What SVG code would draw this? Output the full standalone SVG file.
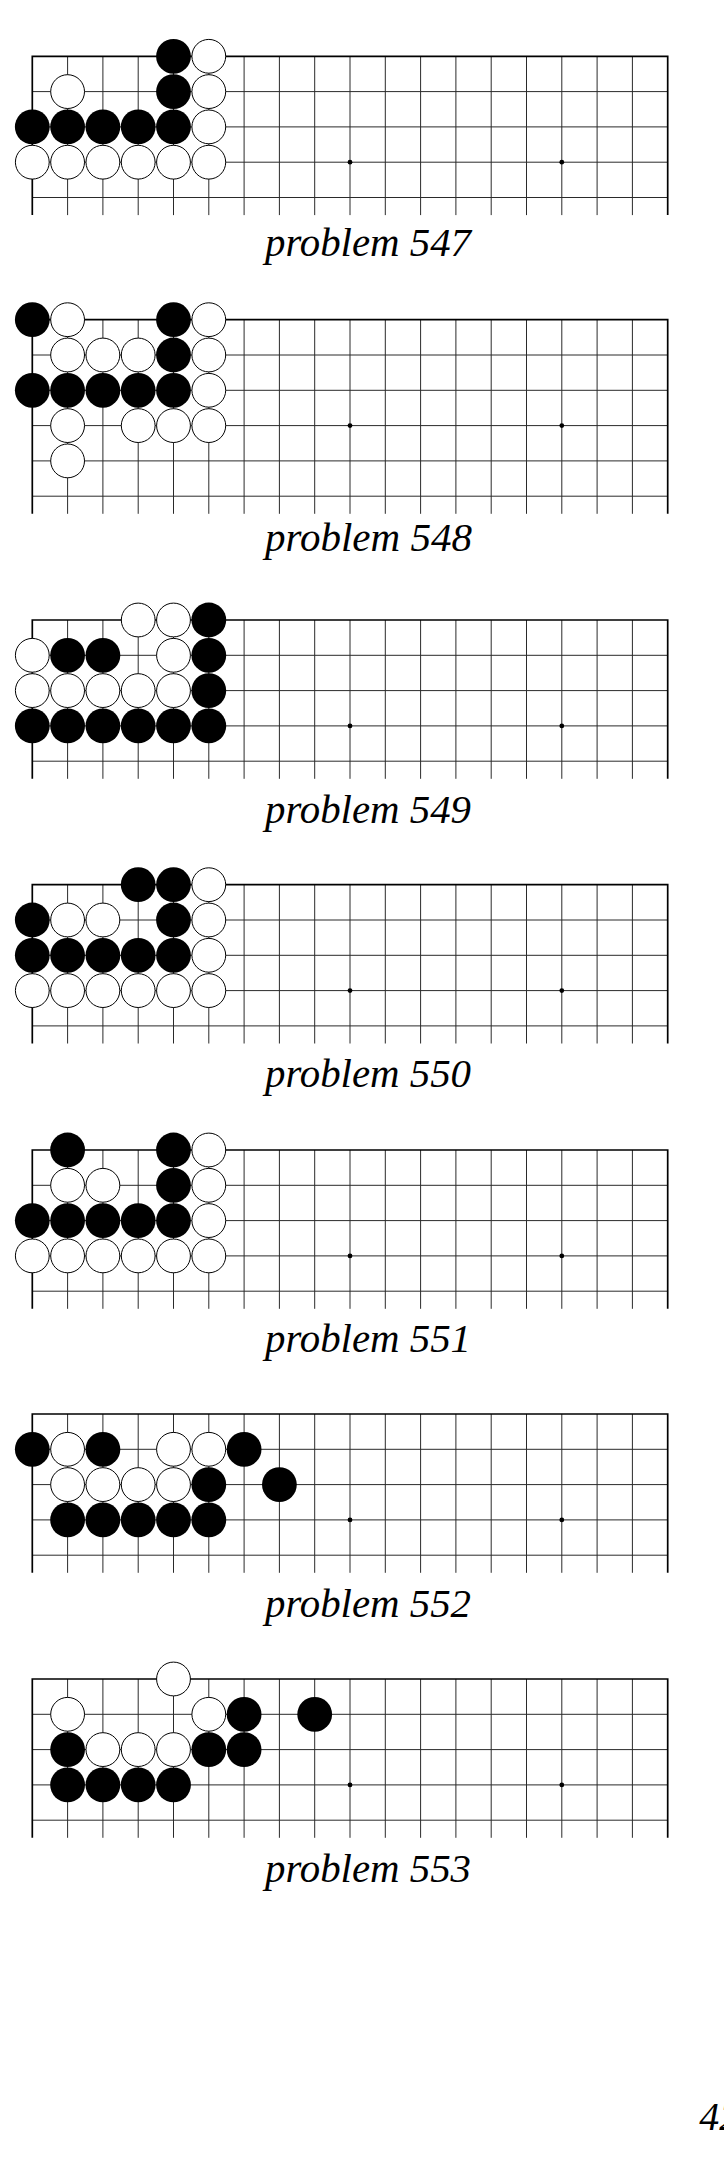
<svg xmlns="http://www.w3.org/2000/svg" xmlns:xlink="http://www.w3.org/1999/xlink" width="724" height="2181" viewBox="0 0 724 2181">
<style>
.bg{fill:#fff}
.in{stroke:#2a2a2a;stroke-width:1;fill:none}
.ed{stroke:#000;stroke-width:1.7;fill:none}
.star{fill:#000}
.b{fill:#000}
.w{fill:#fff;stroke:#000;stroke-width:1}
.cap{font-family:"Liberation Serif","Times New Roman",serif;font-style:italic;font-size:40px;fill:#000}
</style>
<defs>
<g id="grid5">
<path class="in" d="M0 35.3H635.4M0 70.6H635.4M0 105.9H635.4M0 141.2H635.4M35.3 0V158.8M70.6 0V158.8M105.9 0V158.8M141.2 0V158.8M176.5 0V158.8M211.8 0V158.8M247.1 0V158.8M282.4 0V158.8M317.7 0V158.8M353 0V158.8M388.3 0V158.8M423.6 0V158.8M458.9 0V158.8M494.2 0V158.8M529.5 0V158.8M564.8 0V158.8M600.1 0V158.8"/>
<path class="ed" d="M0 158.8V0H635.4V158.8"/>
<circle class="star" cx="317.7" cy="105.9" r="2.4"/>
<circle class="star" cx="529.5" cy="105.9" r="2.4"/>
</g>
<g id="grid6">
<path class="in" d="M0 35.3H635.4M0 70.6H635.4M0 105.9H635.4M0 141.2H635.4M0 176.5H635.4M35.3 0V194.1M70.6 0V194.1M105.9 0V194.1M141.2 0V194.1M176.5 0V194.1M211.8 0V194.1M247.1 0V194.1M282.4 0V194.1M317.7 0V194.1M353 0V194.1M388.3 0V194.1M423.6 0V194.1M458.9 0V194.1M494.2 0V194.1M529.5 0V194.1M564.8 0V194.1M600.1 0V194.1"/>
<path class="ed" d="M0 194.1V0H635.4V194.1"/>
<circle class="star" cx="317.7" cy="105.9" r="2.4"/>
<circle class="star" cx="529.5" cy="105.9" r="2.4"/>
</g>
<circle id="B" class="b" r="17.4"/>
<circle id="W" class="w" r="16.9"/>
</defs>
<rect class="bg" x="0" y="0" width="724" height="2181"/>

<g id="problem547">
<g transform="translate(32.3,56.3)">
<use xlink:href="#grid5"/>
<use xlink:href="#B" x="141.2" y="0"/><use xlink:href="#B" x="141.2" y="35.3"/>
<use xlink:href="#B" x="0" y="70.6"/><use xlink:href="#B" x="35.3" y="70.6"/><use xlink:href="#B" x="70.6" y="70.6"/><use xlink:href="#B" x="105.9" y="70.6"/><use xlink:href="#B" x="141.2" y="70.6"/>
<use xlink:href="#W" x="176.5" y="0"/><use xlink:href="#W" x="35.3" y="35.3"/><use xlink:href="#W" x="176.5" y="35.3"/><use xlink:href="#W" x="176.5" y="70.6"/>
<use xlink:href="#W" x="0" y="105.9"/><use xlink:href="#W" x="35.3" y="105.9"/><use xlink:href="#W" x="70.6" y="105.9"/><use xlink:href="#W" x="105.9" y="105.9"/><use xlink:href="#W" x="141.2" y="105.9"/><use xlink:href="#W" x="176.5" y="105.9"/>
</g>
<text class="cap" x="265" y="255.7" textLength="206" lengthAdjust="spacingAndGlyphs">problem 547</text>
</g>

<g id="problem548">
<g transform="translate(32.3,319.7)">
<use xlink:href="#grid6"/>
<use xlink:href="#B" x="0" y="0"/><use xlink:href="#B" x="141.2" y="0"/><use xlink:href="#B" x="141.2" y="35.3"/>
<use xlink:href="#B" x="0" y="70.6"/><use xlink:href="#B" x="35.3" y="70.6"/><use xlink:href="#B" x="70.6" y="70.6"/><use xlink:href="#B" x="105.9" y="70.6"/><use xlink:href="#B" x="141.2" y="70.6"/>
<use xlink:href="#W" x="35.3" y="0"/><use xlink:href="#W" x="176.5" y="0"/>
<use xlink:href="#W" x="35.3" y="35.3"/><use xlink:href="#W" x="70.6" y="35.3"/><use xlink:href="#W" x="105.9" y="35.3"/><use xlink:href="#W" x="176.5" y="35.3"/>
<use xlink:href="#W" x="176.5" y="70.6"/>
<use xlink:href="#W" x="35.3" y="105.9"/><use xlink:href="#W" x="105.9" y="105.9"/><use xlink:href="#W" x="141.2" y="105.9"/><use xlink:href="#W" x="176.5" y="105.9"/>
<use xlink:href="#W" x="35.3" y="141.2"/>
</g>
<text class="cap" x="265" y="550.7" textLength="207" lengthAdjust="spacingAndGlyphs">problem 548</text>
</g>

<g id="problem549">
<g transform="translate(32.3,620)">
<use xlink:href="#grid5"/>
<use xlink:href="#B" x="176.5" y="0"/><use xlink:href="#B" x="35.3" y="35.3"/><use xlink:href="#B" x="70.6" y="35.3"/><use xlink:href="#B" x="176.5" y="35.3"/><use xlink:href="#B" x="176.5" y="70.6"/>
<use xlink:href="#B" x="0" y="105.9"/><use xlink:href="#B" x="35.3" y="105.9"/><use xlink:href="#B" x="70.6" y="105.9"/><use xlink:href="#B" x="105.9" y="105.9"/><use xlink:href="#B" x="141.2" y="105.9"/><use xlink:href="#B" x="176.5" y="105.9"/>
<use xlink:href="#W" x="105.9" y="0"/><use xlink:href="#W" x="141.2" y="0"/><use xlink:href="#W" x="0" y="35.3"/><use xlink:href="#W" x="141.2" y="35.3"/>
<use xlink:href="#W" x="0" y="70.6"/><use xlink:href="#W" x="35.3" y="70.6"/><use xlink:href="#W" x="70.6" y="70.6"/><use xlink:href="#W" x="105.9" y="70.6"/><use xlink:href="#W" x="141.2" y="70.6"/>
</g>
<text class="cap" x="265" y="823.3" textLength="206" lengthAdjust="spacingAndGlyphs">problem 549</text>
</g>

<g id="problem550">
<g transform="translate(32.3,884.7)">
<use xlink:href="#grid5"/>
<use xlink:href="#B" x="105.9" y="0"/><use xlink:href="#B" x="141.2" y="0"/><use xlink:href="#B" x="0" y="35.3"/><use xlink:href="#B" x="141.2" y="35.3"/>
<use xlink:href="#B" x="0" y="70.6"/><use xlink:href="#B" x="35.3" y="70.6"/><use xlink:href="#B" x="70.6" y="70.6"/><use xlink:href="#B" x="105.9" y="70.6"/><use xlink:href="#B" x="141.2" y="70.6"/>
<use xlink:href="#W" x="176.5" y="0"/><use xlink:href="#W" x="35.3" y="35.3"/><use xlink:href="#W" x="70.6" y="35.3"/><use xlink:href="#W" x="176.5" y="35.3"/><use xlink:href="#W" x="176.5" y="70.6"/>
<use xlink:href="#W" x="0" y="105.9"/><use xlink:href="#W" x="35.3" y="105.9"/><use xlink:href="#W" x="70.6" y="105.9"/><use xlink:href="#W" x="105.9" y="105.9"/><use xlink:href="#W" x="141.2" y="105.9"/><use xlink:href="#W" x="176.5" y="105.9"/>
</g>
<text class="cap" x="265" y="1087.3" textLength="206" lengthAdjust="spacingAndGlyphs">problem 550</text>
</g>

<g id="problem551">
<g transform="translate(32.3,1150)">
<use xlink:href="#grid5"/>
<use xlink:href="#B" x="35.3" y="0"/><use xlink:href="#B" x="141.2" y="0"/><use xlink:href="#B" x="141.2" y="35.3"/>
<use xlink:href="#B" x="0" y="70.6"/><use xlink:href="#B" x="35.3" y="70.6"/><use xlink:href="#B" x="70.6" y="70.6"/><use xlink:href="#B" x="105.9" y="70.6"/><use xlink:href="#B" x="141.2" y="70.6"/>
<use xlink:href="#W" x="176.5" y="0"/><use xlink:href="#W" x="35.3" y="35.3"/><use xlink:href="#W" x="70.6" y="35.3"/><use xlink:href="#W" x="176.5" y="35.3"/><use xlink:href="#W" x="176.5" y="70.6"/>
<use xlink:href="#W" x="0" y="105.9"/><use xlink:href="#W" x="35.3" y="105.9"/><use xlink:href="#W" x="70.6" y="105.9"/><use xlink:href="#W" x="105.9" y="105.9"/><use xlink:href="#W" x="141.2" y="105.9"/><use xlink:href="#W" x="176.5" y="105.9"/>
</g>
<text class="cap" x="265" y="1352.3" textLength="206" lengthAdjust="spacingAndGlyphs">problem 551</text>
</g>

<g id="problem552">
<g transform="translate(32.3,1414)">
<use xlink:href="#grid5"/>
<use xlink:href="#B" x="0" y="35.3"/><use xlink:href="#B" x="70.6" y="35.3"/><use xlink:href="#B" x="211.8" y="35.3"/>
<use xlink:href="#B" x="176.5" y="70.6"/><use xlink:href="#B" x="247.1" y="70.6"/>
<use xlink:href="#B" x="35.3" y="105.9"/><use xlink:href="#B" x="70.6" y="105.9"/><use xlink:href="#B" x="105.9" y="105.9"/><use xlink:href="#B" x="141.2" y="105.9"/><use xlink:href="#B" x="176.5" y="105.9"/>
<use xlink:href="#W" x="35.3" y="35.3"/><use xlink:href="#W" x="141.2" y="35.3"/><use xlink:href="#W" x="176.5" y="35.3"/>
<use xlink:href="#W" x="35.3" y="70.6"/><use xlink:href="#W" x="70.6" y="70.6"/><use xlink:href="#W" x="105.9" y="70.6"/><use xlink:href="#W" x="141.2" y="70.6"/>
</g>
<text class="cap" x="265" y="1617.3" textLength="206" lengthAdjust="spacingAndGlyphs">problem 552</text>
</g>

<g id="problem553">
<g transform="translate(32.3,1679)">
<use xlink:href="#grid5"/>
<use xlink:href="#B" x="211.8" y="35.3"/><use xlink:href="#B" x="282.4" y="35.3"/>
<use xlink:href="#B" x="35.3" y="70.6"/><use xlink:href="#B" x="176.5" y="70.6"/><use xlink:href="#B" x="211.8" y="70.6"/>
<use xlink:href="#B" x="35.3" y="105.9"/><use xlink:href="#B" x="70.6" y="105.9"/><use xlink:href="#B" x="105.9" y="105.9"/><use xlink:href="#B" x="141.2" y="105.9"/>
<use xlink:href="#W" x="141.2" y="0"/><use xlink:href="#W" x="35.3" y="35.3"/><use xlink:href="#W" x="176.5" y="35.3"/>
<use xlink:href="#W" x="70.6" y="70.6"/><use xlink:href="#W" x="105.9" y="70.6"/><use xlink:href="#W" x="141.2" y="70.6"/>
</g>
<text class="cap" x="265" y="1882.3" textLength="206" lengthAdjust="spacingAndGlyphs">problem 553</text>
</g>

<text id="page-number" class="cap" x="699.3" y="2130">42</text>
</svg>
